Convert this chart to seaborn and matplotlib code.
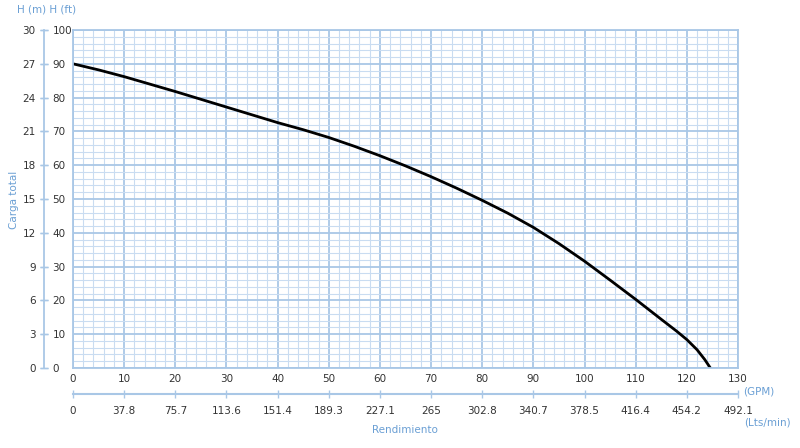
import numpy as np
import pandas as pd
import matplotlib
matplotlib.use("Agg")
import matplotlib.pyplot as plt
import seaborn as sns

# pump curve: flow (GPM) vs head (ft)
flow_gpm = [0, 5, 10, 15, 20, 25, 30, 35, 40, 45, 50, 55, 60, 65, 70, 75,
            80, 85, 90, 95, 100, 105, 110, 115, 118, 120, 122, 123.5, 124.6]
head_ft = [90, 88.2, 86.2, 84.0, 81.8, 79.5, 77.2, 74.9, 72.6, 70.5, 68.2, 65.6,
           62.8, 59.8, 56.6, 53.2, 49.6, 45.8, 41.6, 36.8, 31.6, 26.0, 20.3, 14.4,
           10.9, 8.4, 5.4, 2.5, 0]

gpm_ticks = list(range(0, 131, 10))
lpm_labels = ["0", "37.8", "75.7", "113.6", "151.4", "189.3", "227.1", "265",
              "302.8", "340.7", "378.5", "416.4", "454.2", "492.1"]
ft_ticks = list(range(0, 101, 10))
m_ticks = list(range(0, 31, 3))

df = pd.DataFrame({"gpm": flow_gpm, "ft": head_ft})

blue = "#6a9fd4"
grid_major = "#a9c7e6"
grid_minor = "#c9dcf1"
dark = "#333333"
fs = 7.5

sns.set_style("white")
plt.rcParams["font.family"] = ["DejaVu Sans"]

fig = plt.figure(figsize=(8, 4.48), dpi=100)
ax = fig.add_axes([73 / 800, 1 - 368 / 448, 665 / 800, 338 / 448])

ax.set_xlim(0, 130)
ax.set_ylim(0, 100)
ax.set_xticks(gpm_ticks)
ax.set_xticks(np.arange(0, 131, 2), minor=True)
ax.set_yticks(ft_ticks)
ax.set_yticks(np.arange(0, 101, 2), minor=True)
ax.grid(which="minor", color=grid_minor, lw=0.8)
ax.grid(which="major", color=grid_major, lw=1.3)
ax.set_axisbelow(True)
for s in ax.spines.values():
    s.set_color(grid_major)
    s.set_linewidth(1.3)
ax.tick_params(axis="x", which="both", length=0, pad=4, labelsize=fs, labelcolor=dark)
ax.tick_params(axis="y", which="both", length=0, labelleft=False)

sns.lineplot(data=df, x="gpm", y="ft", ax=ax, color="black", lw=2.0)
ax.set_xlabel("")
ax.set_ylabel("")

off = (44 - 73) / 665

# head in metres (labels left of the shared spine)
axm = ax.twinx()
axm.set_ylim(0, 30)
axm.set_yticks(m_ticks)
axm.yaxis.tick_left()
axm.spines["left"].set_position(("axes", off))
axm.spines["left"].set_color(grid_major)
axm.spines["left"].set_linewidth(1.3)
for k in ["right", "top", "bottom"]:
    axm.spines[k].set_visible(False)
axm.tick_params(axis="y", direction="inout", length=6, color=grid_major, width=1.0,
                labelsize=fs, labelcolor=dark, pad=3)

# head in feet (labels right of the shared spine)
axf = ax.twinx()
axf.set_ylim(0, 100)
axf.set_yticks(ft_ticks)
axf.spines["right"].set_position(("axes", off))
for k in ["left", "right", "top", "bottom"]:
    axf.spines[k].set_visible(False)
axf.tick_params(axis="y", direction="inout", length=6, color=grid_major, width=1.0,
                labelsize=fs, labelcolor=dark, pad=3)

# flow in litres per minute
axl = ax.twiny()
axl.set_xlim(0, 130)
axl.set_xticks(gpm_ticks)
axl.set_xticklabels(lpm_labels)
axl.xaxis.tick_bottom()
axl.spines["bottom"].set_position(("axes", (368 - 394) / 338))
axl.spines["bottom"].set_color(grid_major)
axl.spines["bottom"].set_linewidth(1.5)
for k in ["left", "right", "top"]:
    axl.spines[k].set_visible(False)
axl.tick_params(axis="x", direction="inout", length=6, color=grid_major, width=1.0,
                labelsize=fs, labelcolor=dark, pad=6)

fig.text(17 / 800, 1 - 10 / 448, "H (m) H (ft)", color=blue, fontsize=fs,
         ha="left", va="center")
fig.text(14 / 800, 1 - 200 / 448, "Carga total", color=blue, fontsize=fs,
         rotation=90, ha="center", va="center")
fig.text(405 / 800, 1 - 430 / 448, "Rendimiento", color=blue, fontsize=fs,
         ha="center", va="center")
fig.text(743 / 800, 1 - 391 / 448, "(GPM)", color=blue, fontsize=fs,
         ha="left", va="center")
fig.text(744 / 800, 1 - 422 / 448, "(Lts/min)", color=blue, fontsize=fs,
         ha="left", va="center")

fig.savefig("out.png", dpi=100)
